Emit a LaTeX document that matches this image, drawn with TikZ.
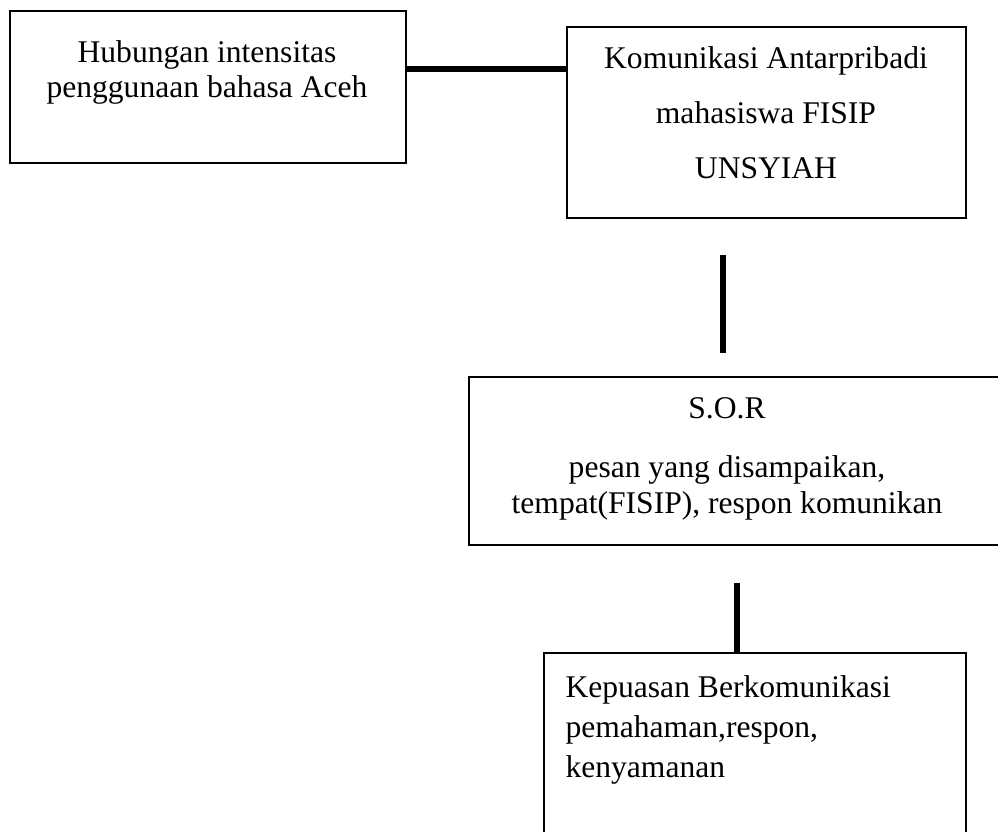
\documentclass[tikz,border=0pt]{standalone}
\usepackage{fontspec}
\setmainfont{Liberation Serif}
\usetikzlibrary{positioning,fit}

\begin{document}
\begin{tikzpicture}[x=.38pt,y=.38pt,
  box/.style={draw,line width=.5pt,inner sep=0pt},
  txt/.style={inner sep=0pt,font=\fontsize{12}{13.5}\selectfont},
  link/.style={line width=2.6pt}]
\useasboundingbox (0,0) rectangle (998,-832);
% kotak
\node[box,fit={(10,-11) (406,-163)}] (hubungan) {};
\node[box,fit={(567,-27) (966,-218)}] (komunikasi) {};
\node[box,fit={(469,-377) (1006,-545)}] (sor) {};
\node[box,fit={(544,-653) (966,-845)}] (kepuasan) {};
% teks
\node[txt,align=center,anchor=north] (hubunganT) at (207,-40) {Hubungan intensitas\\penggunaan bahasa Aceh};
\node[txt,align=center,anchor=north,font=\fontsize{12}{20.9}\selectfont] (komunikasiT) at (766,-46) {Komunikasi Antarpribadi\\mahasiswa FISIP\\UNSYIAH};
\node[txt,align=center,anchor=north] (sorT) at (727,-397) {S.O.R\\[9pt]pesan yang disampaikan,\\tempat(FISIP), respon komunikan};
\node[txt,align=left,anchor=north west,font=\fontsize{12}{15.2}\selectfont] (kepuasanT) at (565,-675) {Kepuasan Berkomunikasi\\pemahaman,respon,\\kenyamanan};
% garis penghubung
\coordinate (h1) at (0,-69);
\coordinate (v1a) at (723,-255);
\coordinate (v1b) at (723,-353);
\coordinate (v2) at (737,-583);
\draw[link] (hubungan.east |- h1) -- (komunikasi.west |- h1);
\draw[link] (v1a) -- (v1b);
\draw[link] (v2) -- (kepuasan.north -| v2);
\end{tikzpicture}
\end{document}
